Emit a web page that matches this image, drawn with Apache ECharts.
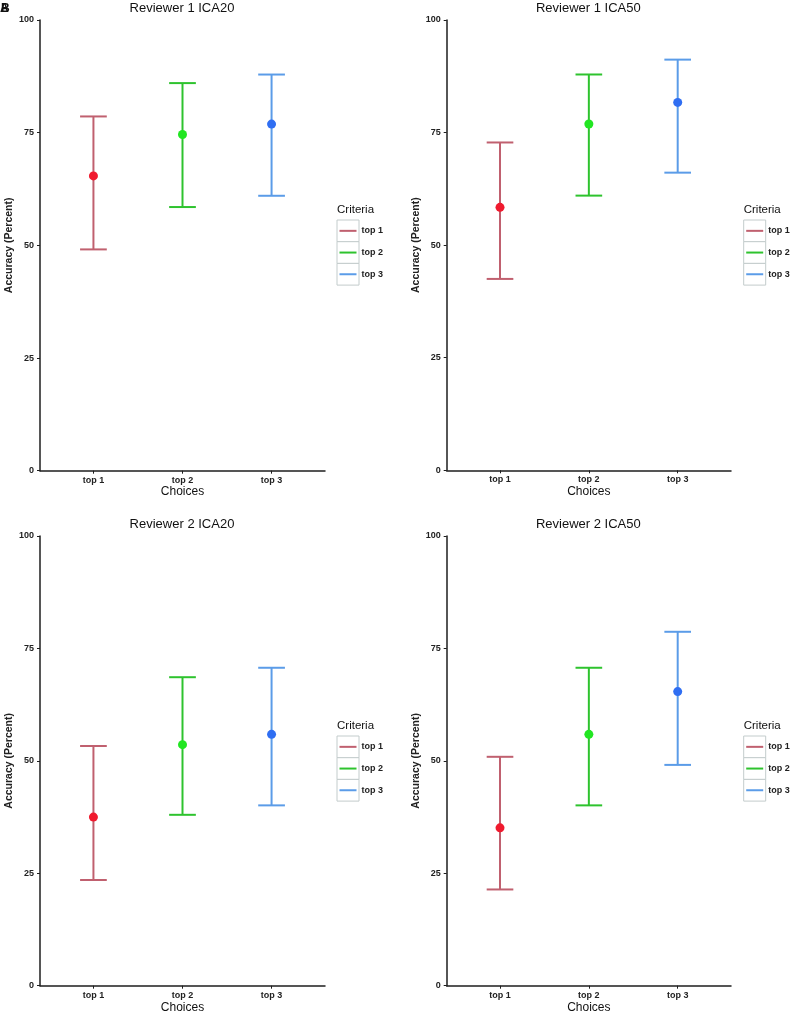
<!DOCTYPE html>
<html>
<head>
<meta charset="utf-8">
<script src="https://cdn.jsdelivr.net/npm/echarts@6/dist/echarts.min.js"></script>
<style>
html,body{margin:0;padding:0;background:#fff;}
#chart{width:794px;height:1017px;}
</style>
</head>
<body>
<div id="chart"></div>
<script>
// ---- data ----
const categories = ['top 1', 'top 2', 'top 3'];
const panelTitles = ['Reviewer 1 ICA20', 'Reviewer 1 ICA50', 'Reviewer 2 ICA20', 'Reviewer 2 ICA50'];
const legendTitle = 'Criteria';
const xAxisTitle = 'Choices';
const yAxisTitle = 'Accuracy (Percent)';

const r1ica20Mean  = [65.4, 74.6, 76.9];
const r1ica20Lower = [49.1, 58.5, 61.0];
const r1ica20Upper = [78.6, 86.0, 87.9];

const r1ica50Mean  = [58.4, 76.9, 81.7];
const r1ica50Lower = [42.5, 61.0, 66.1];
const r1ica50Upper = [72.8, 87.9, 91.2];

const r2ica20Mean  = [37.5, 53.6, 55.9];
const r2ica20Lower = [23.5, 38.0, 40.1];
const r2ica20Upper = [53.3, 68.6, 70.7];

const r2ica50Mean  = [35.1, 55.9, 65.4];
const r2ica50Lower = [21.4, 40.1, 49.1];
const r2ica50Upper = [50.9, 70.7, 78.7];

// ---- styling / layout ----
const barColors   = ['#c0606f', '#2ec32e', '#5b9ce8'];
const pointColors = ['#f01a2e', '#22e622', '#2f6ef2'];
const FONT = '"Liberation Sans", Arial, sans-serif';
const AX = '#1e1e1e';

const panels = [
  {mean: r1ica20Mean, lo: r1ica20Lower, hi: r1ica20Upper, left: 40,    top: 20,  width: 285,   height: 450.7, gapX: 15},
  {mean: r1ica50Mean, lo: r1ica50Lower, hi: r1ica50Upper, left: 446.7, top: 20,  width: 284.3, height: 450.3, gapX: 15},
  {mean: r2ica20Mean, lo: r2ica20Lower, hi: r2ica20Upper, left: 40,    top: 536, width: 285,   height: 449.7, gapX: 16},
  {mean: r2ica50Mean, lo: r2ica50Lower, hi: r2ica50Upper, left: 446.7, top: 536, width: 284.3, height: 449.7, gapX: 16}
];

function renderErrorBar(params, api) {
  const x = api.value(0), lo = api.value(1), hi = api.value(2);
  const pLo = api.coord([x, lo]);
  const pHi = api.coord([x, hi]);
  const half = api.size([0.15, 0])[0];
  const style = {stroke: api.visual('color'), lineWidth: 2, fill: null};
  return {
    type: 'group',
    children: [
      {type: 'line', shape: {x1: pLo[0], y1: pLo[1], x2: pHi[0], y2: pHi[1]}, style: style},
      {type: 'line', shape: {x1: pHi[0] - half, y1: pHi[1], x2: pHi[0] + half, y2: pHi[1]}, style: style},
      {type: 'line', shape: {x1: pLo[0] - half, y1: pLo[1], x2: pLo[0] + half, y2: pLo[1]}, style: style}
    ]
  };
}

const grid = [], xAxis = [], yAxis = [], series = [], legend = [], graphic = [];

panels.forEach((p, pi) => {
  grid.push({left: p.left, top: p.top, width: p.width, height: p.height, containLabel: false});
  xAxis.push({
    gridIndex: pi, type: 'value', min: 0.4, max: 3.6,
    name: xAxisTitle, nameLocation: 'middle', nameGap: p.gapX,
    nameTextStyle: {fontFamily: FONT, fontSize: 12, color: '#111'},
    axisLine: {show: true, onZero: false, lineStyle: {color: AX, width: 1.5}},
    axisTick: {show: true, length: 3, customValues: [1, 2, 3], lineStyle: {color: AX, width: 1}},
    axisLabel: {
      customValues: [1, 2, 3], margin: 5,
      fontFamily: FONT, fontSize: 9, fontWeight: 'bold', color: '#222',
      formatter: v => categories[Math.round(v) - 1]
    },
    splitLine: {show: false}
  });
  yAxis.push({
    gridIndex: pi, type: 'value', min: 0, max: 100, interval: 25,
    name: yAxisTitle, nameLocation: 'middle', nameGap: 25, nameRotate: 90,
    nameTextStyle: {fontFamily: FONT, fontSize: 10.5, fontWeight: 'bold', color: '#222'},
    axisLine: {show: true, onZero: false, lineStyle: {color: AX, width: 1.5}},
    axisTick: {show: true, length: 3, lineStyle: {color: AX, width: 1}},
    axisLabel: {margin: 6, fontFamily: FONT, fontSize: 9, fontWeight: 'bold', color: '#222'},
    splitLine: {show: false}
  });
  categories.forEach((c, i) => {
    series.push({
      type: 'custom', name: c, xAxisIndex: pi, yAxisIndex: pi,
      renderItem: renderErrorBar,
      itemStyle: {color: barColors[i]},
      encode: {x: 0, y: [1, 2]},
      data: [[i + 1, p.lo[i], p.hi[i]]],
      z: 2, silent: true
    });
  });
  categories.forEach((c, i) => {
    series.push({
      type: 'scatter', name: c + ' mean', xAxisIndex: pi, yAxisIndex: pi,
      symbol: 'circle', symbolSize: 9,
      itemStyle: {color: pointColors[i], opacity: 1},
      data: [[i + 1, p.mean[i]]],
      z: 3, silent: true
    });
  });

  const boxX = p.left + 297;
  const boxY = p.top + 200;
  legend.push({
    orient: 'vertical', left: boxX + 2.5, top: boxY, padding: 0,
    itemGap: 0, itemWidth: 17, itemHeight: 2, selectedMode: false,
    textStyle: {fontFamily: FONT, fontSize: 9, fontWeight: 'bold', color: '#222', lineHeight: 21.7},
    data: categories.map((c, i) => ({name: c, icon: 'rect', itemStyle: {color: barColors[i]}}))
  });
  for (let k = 0; k < 3; k++) {
    graphic.push({type: 'rect', silent: true, z: -1,
      shape: {x: boxX, y: boxY + k * 21.7, width: 22, height: 21.7},
      style: {fill: '#fff', stroke: '#c3cccc', lineWidth: 1}});
  }
  graphic.push({type: 'text', x: boxX, y: boxY - 10, silent: true,
    style: {text: legendTitle, font: '11.5px ' + FONT, fill: '#111', align: 'left', verticalAlign: 'middle'}});
  graphic.push({type: 'text', x: p.left + p.width / 2 - 0.5, y: p.top - 12, silent: true,
    style: {text: panelTitles[pi], font: '13px ' + FONT, fill: '#111', align: 'center', verticalAlign: 'middle'}});
});

graphic.push({type: 'text', x: 0, y: 9, silent: true,
  style: {text: 'A', font: 'bold 12px ' + FONT, fill: '#111', align: 'left', verticalAlign: 'middle'}});
graphic.push({type: 'text', x: 1, y: 9, silent: true,
  style: {text: 'B', font: 'bold 12px ' + FONT, fill: '#111', align: 'left', verticalAlign: 'middle'}});

const chart = echarts.init(document.getElementById('chart'), null, {renderer: 'canvas'});
chart.setOption({
  backgroundColor: '#ffffff',
  animation: false,
  grid: grid, xAxis: xAxis, yAxis: yAxis,
  legend: legend,
  series: series,
  graphic: graphic
});
</script>
</body>
</html>
